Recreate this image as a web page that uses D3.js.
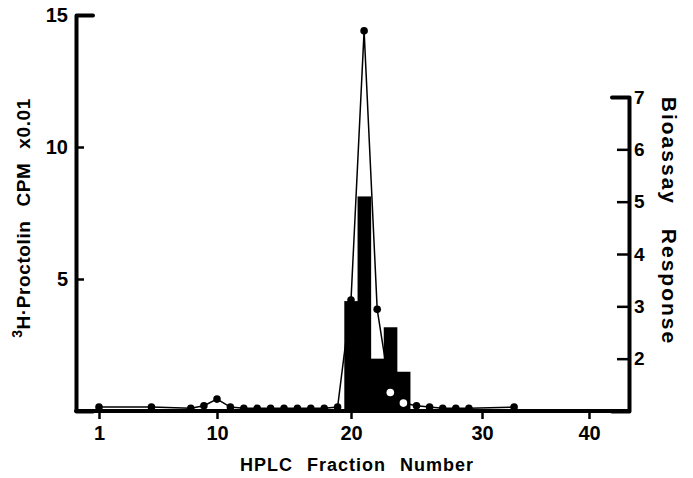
<!DOCTYPE html>
<html>
<head>
<meta charset="utf-8">
<script src="https://cdn.jsdelivr.net/npm/d3@7"></script>
<style>
  body { margin: 0; background: #fff; }
  text { font-family: "Liberation Sans", Arial, sans-serif; font-weight: bold; fill: #000; }
</style>
</head>
<body>
<div id="chart"></div>
<script>
// HPLC fractions - tritiated proctolin counts (CPM x 0.01)
var cpmFractions = [1, 5, 8, 9, 10, 11, 12, 13, 14, 15, 16, 17, 18, 19,
                    20, 21, 22, 23, 24, 25, 26, 27, 28, 29, 33];
var cpmValues = [0.15, 0.15, 0.1, 0.2, 0.45, 0.15, 0.1, 0.1, 0.1, 0.1, 0.1, 0.1, 0.1, 0.15,
                 4.2, 14.4, 3.85, 0.7, 0.3, 0.2, 0.15, 0.1, 0.1, 0.1, 0.15];

// Bioassay response bars
var bioFractions = [20, 21, 22, 23, 24];
var bioValues = [3.1, 5.1, 2.0, 2.6, 1.75];

// tick labels
var xTicks = [1, 10, 20, 30, 40];
var leftTicks = [5, 10, 15];
var rightTicks = [2, 3, 4, 5, 6, 7];

var svgWidth = 693;
var svgHeight = 478;

// frame edges
var leftX = 76;
var rightX = 629;
var baseY = 411;

var svg = d3.select('#chart')
  .append('svg')
  .attr('width', svgWidth)
  .attr('height', svgHeight);

// x scale - the drawn axis is not quite even, so use a piecewise scale
var xScale = d3.scaleLinear()
  .domain([1, 10, 20, 30, 40])
  .range([99, 217, 351, 482, 589]);

// left y scale (CPM)
var yLeft = d3.scaleLinear()
  .domain([0, 15])
  .range([baseY, 15]);

// right y scale (bioassay)
var yRight = d3.scaleLinear()
  .domain([1, 7])
  .range([baseY, 97]);

// bars
svg.selectAll('rect.bio')
  .data(bioFractions)
  .enter()
  .append('rect')
  .attr('class', 'bio')
  .attr('x', d => xScale(d - 0.5))
  .attr('width', d => xScale(d + 0.5) - xScale(d - 0.5) + 0.5)
  .attr('y', (d, i) => yRight(bioValues[i]))
  .attr('height', (d, i) => baseY - yRight(bioValues[i]))
  .attr('fill', '#000');

// CPM line
var cpmData = cpmFractions.map((f, i) => ({ f: f, v: cpmValues[i] }));

var line = d3.line()
  .x(d => xScale(d.f))
  .y(d => yLeft(d.v));

svg.append('path')
  .datum(cpmData)
  .attr('d', line)
  .attr('fill', 'none')
  .attr('stroke', '#000')
  .attr('stroke-width', 1.5);

// points - white where they sit inside a black bar
function insideBar(d) {
  var i = bioFractions.indexOf(d.f);
  if (i < 0) return false;
  return yLeft(d.v) > yRight(bioValues[i]) + 5;
}

svg.selectAll('circle')
  .data(cpmData)
  .enter()
  .append('circle')
  .attr('cx', d => xScale(d.f))
  .attr('cy', d => yLeft(d.v))
  .attr('r', 3.8)
  .attr('fill', d => insideBar(d) ? '#fff' : '#000');

// frame - bottom line
svg.append('line')
  .attr('x1', leftX)
  .attr('x2', rightX)
  .attr('y1', baseY)
  .attr('y2', baseY)
  .attr('stroke', '#000')
  .attr('stroke-width', 4)
  .attr('stroke-linecap', 'round');

// left axis
var leftAxis = d3.axisLeft(yLeft)
  .tickValues(leftTicks)
  .tickSizeInner(-8)
  .tickSizeOuter(-17)
  .tickPadding(8);

var gLeft = svg.append('g')
  .attr('transform', `translate(${leftX}, 0)`)
  .call(leftAxis);

// right axis
var rightAxis = d3.axisRight(yRight)
  .tickValues(rightTicks)
  .tickFormat(d3.format('d'))
  .tickSizeInner(-12)
  .tickSizeOuter(-17)
  .tickPadding(5);

var gRight = svg.append('g')
  .attr('transform', `translate(${rightX}, 0)`)
  .call(rightAxis);

// bottom axis (ticks and labels only)
var bottomAxis = d3.axisBottom(xScale)
  .tickValues(xTicks)
  .tickSizeInner(8)
  .tickSizeOuter(0)
  .tickPadding(7);

var gBottom = svg.append('g')
  .attr('transform', `translate(0, ${baseY})`)
  .call(bottomAxis);
gBottom.select('.domain').remove();

// shared axis styling
[gLeft, gRight, gBottom].forEach(g => {
  g.select('.domain')
    .attr('stroke-width', 4)
    .attr('stroke-linejoin', 'round')
    .attr('stroke-linecap', 'round');
  g.selectAll('.tick line').attr('stroke-width', 2.5);
  g.selectAll('.tick text')
    .attr('font-size', 20)
    .attr('font-family', null);
});
gRight.selectAll('.tick text').attr('font-size', 19);
gRight.select('.tick:last-of-type line').remove();
gLeft.select('.tick:last-of-type line').remove();

// axis titles
svg.append('text')
  .attr('x', 357)
  .attr('y', 471)
  .attr('text-anchor', 'middle')
  .attr('font-size', 18)
  .style('letter-spacing', '1px')
  .style('word-spacing', '8px')
  .text('HPLC Fraction Number');

var leftTitle = svg.append('text')
  .attr('transform', 'translate(30, 218) rotate(-90)')
  .attr('text-anchor', 'middle')
  .attr('font-size', 19)
  .style('letter-spacing', '0.6px')
  .style('word-spacing', '8px');
leftTitle.append('tspan')
  .attr('font-size', 14)
  .attr('dy', -8)
  .text('3');
leftTitle.append('tspan')
  .attr('dy', 8)
  .text('H·Proctolin CPM x0.01');

svg.append('text')
  .attr('transform', 'translate(662, 221) rotate(90)')
  .attr('text-anchor', 'middle')
  .attr('font-size', 21)
  .style('letter-spacing', '2px')
  .style('word-spacing', '16px')
  .text('Bioassay Response');
</script>
</body>
</html>
